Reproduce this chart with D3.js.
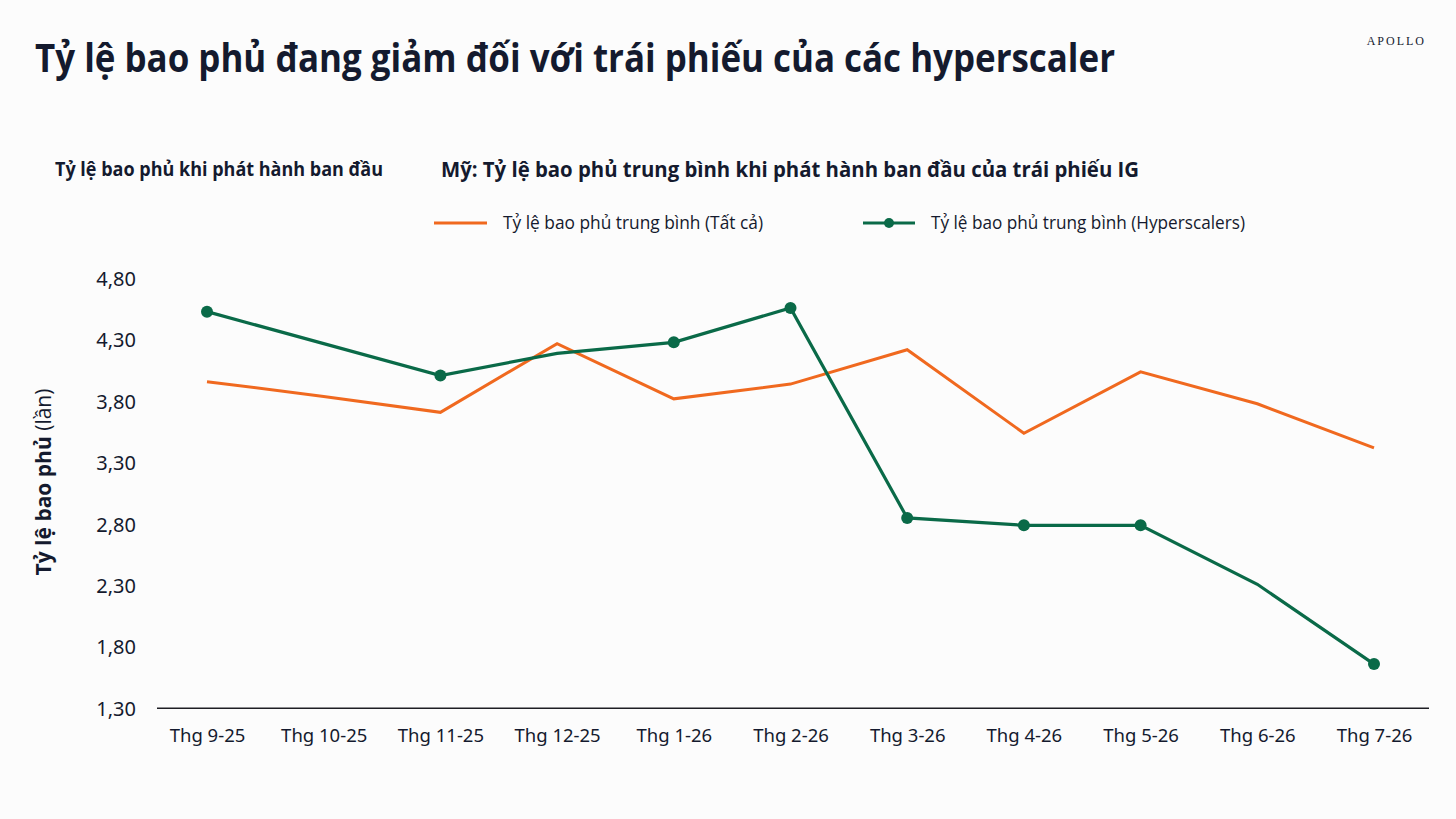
<!DOCTYPE html>
<html>
<head>
<meta charset="utf-8">
<script src="https://cdn.jsdelivr.net/npm/d3@7"></script>
<style>
  body { margin: 0; background: #fcfcfc; }
  svg { display: block; }
  text { fill: #141a2e; }
</style>
</head>
<body>
<svg id="chart" width="1456" height="819"></svg>
<script>
// data
var months = ['Thg 9-25', 'Thg 10-25', 'Thg 11-25', 'Thg 12-25', 'Thg 1-26', 'Thg 2-26',
              'Thg 3-26', 'Thg 4-26', 'Thg 5-26', 'Thg 6-26', 'Thg 7-26'];
var allIssues = [3.96, 3.84, 3.71, 4.27, 3.82, 3.94, 4.22, 3.54, 4.04, 3.78, 3.42];
var hyperscalers = [4.53, 4.27, 4.01, 4.19, 4.28, 4.56, 2.85, 2.79, 2.79, 2.31, 1.66];
var hyperMarked = [true, false, true, false, true, true, true, true, true, false, true];
var yTicks = [1.3, 1.8, 2.3, 2.8, 3.3, 3.8, 4.3, 4.8];
var yTickLabels = ['1,30', '1,80', '2,30', '2,80', '3,30', '3,80', '4,30', '4,80'];

var orange = '#f0691f';
var green = '#0a6a48';

var svg = d3.select('#chart');

var x = d3.scalePoint().domain(months).range([207, 1374]);
var y = d3.scaleLinear().domain([1.3, 4.8]).range([708.3, 278.5]);

// titles
svg.append('text')
    .attr('x', 35).attr('y', 72)
    .attr('textLength', 1080).attr('lengthAdjust', 'spacingAndGlyphs')
    .style('font-family', 'Open Sans').style('font-weight', 700).style('font-size', '39px')
    .text('Tỷ lệ bao phủ đang giảm đối với trái phiếu của các hyperscaler');

svg.append('text')
    .attr('x', 1426).attr('y', 45).attr('text-anchor', 'end')
    .style('font-family', 'Liberation Serif').style('font-size', '12px')
    .style('letter-spacing', '2px')
    .text('APOLLO');

svg.append('text')
    .attr('x', 55).attr('y', 176)
    .attr('textLength', 328).attr('lengthAdjust', 'spacingAndGlyphs')
    .style('font-family', 'Open Sans').style('font-weight', 700).style('font-size', '19px')
    .text('Tỷ lệ bao phủ khi phát hành ban đầu');

svg.append('text')
    .attr('x', 441).attr('y', 177)
    .attr('textLength', 698).attr('lengthAdjust', 'spacingAndGlyphs')
    .style('font-family', 'Open Sans').style('font-weight', 700).style('font-size', '21px')
    .text('Mỹ: Tỷ lệ bao phủ trung bình khi phát hành ban đầu của trái phiếu IG');

// legend
var legend = svg.append('g').attr('class', 'legend');
legend.append('line')
    .attr('x1', 434).attr('x2', 487).attr('y1', 223).attr('y2', 223)
    .attr('stroke', orange).attr('stroke-width', 3);
legend.append('text')
    .attr('x', 503).attr('y', 229)
    .attr('textLength', 260).attr('lengthAdjust', 'spacingAndGlyphs')
    .style('font-family', 'Open Sans').style('font-size', '18px')
    .text('Tỷ lệ bao phủ trung bình (Tất cả)');
legend.append('line')
    .attr('x1', 863).attr('x2', 915).attr('y1', 223).attr('y2', 223)
    .attr('stroke', green).attr('stroke-width', 3);
legend.append('circle')
    .attr('cx', 889).attr('cy', 223).attr('r', 5).attr('fill', green);
legend.append('text')
    .attr('x', 931).attr('y', 229)
    .attr('textLength', 314).attr('lengthAdjust', 'spacingAndGlyphs')
    .style('font-family', 'Open Sans').style('font-size', '18px')
    .text('Tỷ lệ bao phủ trung bình (Hyperscalers)');

// y axis
var yAxis = d3.axisLeft(y)
    .tickValues(yTicks)
    .tickFormat(function (d, i) { return yTickLabels[i]; })
    .tickSize(0).tickPadding(0);

var gy = svg.append('g').attr('transform', 'translate(136,0)').call(yAxis);
gy.select('.domain').remove();
gy.selectAll('text')
    .attr('dy', '0.35em')
    .style('font-family', 'Noto Sans').style('font-size', '20px').style('fill', '#141a2e');

var yLabel = svg.append('text')
    .attr('transform', 'translate(51,482) rotate(-90)')
    .attr('text-anchor', 'middle')
    .style('font-family', 'Open Sans').style('font-size', '21px');
yLabel.append('tspan').style('font-weight', 700).text('Tỷ lệ bao phủ ');
yLabel.append('tspan').style('font-weight', 400).text('(lần)');

// x axis
var xAxis = d3.axisBottom(x).tickSize(0).tickPadding(21);
var gx = svg.append('g').attr('transform', 'translate(0,' + y(1.3) + ')').call(xAxis);
gx.select('.domain').remove();
gx.selectAll('text')
    .style('font-family', 'Noto Sans').style('font-size', '18.5px').style('fill', '#141a2e');

svg.append('line')
    .attr('x1', x.range()[0] - 50).attr('x2', x.range()[1] + 55)
    .attr('y1', y(1.3)).attr('y2', y(1.3))
    .attr('stroke', '#1e1e24').attr('stroke-width', 1.6);

// lines
var line = d3.line()
    .x(function (d, i) { return x(months[i]); })
    .y(function (d) { return y(d); });

svg.append('path')
    .datum(allIssues)
    .attr('d', line)
    .attr('fill', 'none').attr('stroke', orange).attr('stroke-width', 3)
    .attr('stroke-linejoin', 'miter');

svg.append('path')
    .datum(hyperscalers)
    .attr('d', line)
    .attr('fill', 'none').attr('stroke', green).attr('stroke-width', 3.2);

svg.selectAll('circle.dot')
    .data(hyperscalers.map(function (v, i) { return { v: v, i: i }; })
        .filter(function (d) { return hyperMarked[d.i]; }))
    .enter().append('circle')
    .attr('class', 'dot')
    .attr('cx', function (d) { return x(months[d.i]); })
    .attr('cy', function (d) { return y(d.v); })
    .attr('r', 6)
    .attr('fill', green);
</script>
</body>
</html>
